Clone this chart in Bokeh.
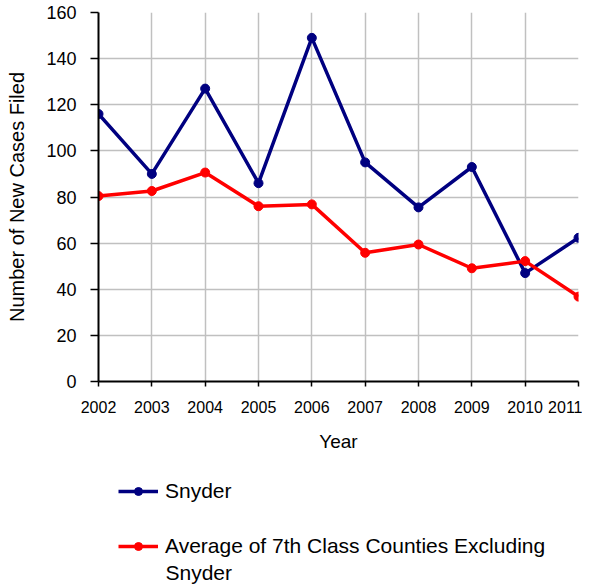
from bokeh.plotting import figure
from bokeh.models import Range1d, FixedTicker, Legend, LegendItem, Label
from bokeh.layouts import column
from bokeh.embed import file_html
from bokeh.resources import INLINE

years = [2002, 2003, 2004, 2005, 2006, 2007, 2008, 2009, 2010, 2011]
snyder = [116, 90, 127, 86, 149, 95, 75.5, 93, 47, 62.3]
average = [80.4, 82.6, 90.6, 76, 76.8, 55.8, 59.4, 49.1, 52.2, 36.8]
y_ticks = [0, 20, 40, 60, 80, 100, 120, 140, 160]
series_names = ["Snyder", "Average of 7th Class Counties Excluding", "Snyder"]

FONT = "Liberation Sans"
NAVY = "#000080"
RED = "#FF0000"
LW = 3.5
MS = 9

p = figure(width=582, height=460, output_backend="svg", toolbar_location=None,
           x_range=Range1d(2002, 2011), y_range=Range1d(0, 160),
           min_border_left=98, min_border_right=4, min_border_top=12, min_border_bottom=79)
p.outline_line_color = None

for ax in (p.xaxis[0], p.yaxis[0]):
    ax.axis_line_color = "black"
    ax.axis_line_width = 2
    ax.major_tick_line_color = "black"
    ax.major_tick_line_width = 1.5
    ax.minor_tick_line_color = None
    ax.major_tick_in = 0
    ax.major_label_text_font = FONT
    ax.major_label_text_color = "black"
    ax.axis_label_text_font = FONT
    ax.axis_label_text_font_style = "normal"
    ax.axis_label_text_color = "black"
    ax.axis_label_text_font_size = "19px"

p.xaxis.ticker = FixedTicker(ticks=years)
p.xaxis.major_tick_out = 5
p.xaxis.major_label_standoff = 14
p.xaxis.major_label_text_font_size = "16px"
p.xaxis.axis_label = "Year"
p.xaxis.axis_label_standoff = 15

p.yaxis.ticker = FixedTicker(ticks=y_ticks)
p.yaxis.major_tick_out = 8
p.yaxis.major_label_standoff = 14
p.yaxis.major_label_text_font_size = "18px"
p.yaxis.axis_label = "Number of New Cases Filed"
p.yaxis.axis_label_text_font_size = "20px"
p.yaxis.axis_label_standoff = 15

p.xgrid.ticker = FixedTicker(ticks=years)
p.ygrid.ticker = FixedTicker(ticks=y_ticks)
for g in (p.xgrid[0], p.ygrid[0]):
    g.grid_line_color = "#C0C0C0"
    g.grid_line_width = 1.5

p.line(years, snyder, line_color=NAVY, line_width=LW)
p.scatter(years, snyder, size=MS, fill_color=NAVY, line_color=NAVY)
p.line(years, average, line_color=RED, line_width=LW)
p.scatter(years, average, size=MS, fill_color=RED, line_color=RED)

# legend panel (its glyph renderers lie outside its ranges, so only the legend shows them)
q = figure(width=582, height=124, output_backend="svg", toolbar_location=None,
           x_range=Range1d(0, 1), y_range=Range1d(0, 1),
           min_border=0, x_axis_type=None, y_axis_type=None)
q.outline_line_color = None
q.grid.visible = False
ql1 = q.line(years, snyder, line_color=NAVY, line_width=LW)
qs1 = q.scatter(years, snyder, size=MS, fill_color=NAVY, line_color=NAVY)
ql2 = q.line(years, average, line_color=RED, line_width=LW)
qs2 = q.scatter(years, average, size=MS, fill_color=RED, line_color=RED)

legend = Legend(items=[LegendItem(label=series_names[0], renderers=[ql1, qs1]),
                       LegendItem(label=series_names[1], renderers=[ql2, qs2])],
                location=(20, 26), orientation="vertical",
                glyph_width=40, glyph_height=20, label_height=20,
                label_standoff=7, spacing=31, padding=0, margin=0,
                border_line_color=None, background_fill_alpha=0,
                label_text_font=FONT, label_text_font_size="21px",
                label_text_color="black")
q.add_layout(legend, "center")
q.add_layout(Label(x=67, y=12, x_units="screen", y_units="screen",
                   text=series_names[2], text_font=FONT, text_font_size="21px",
                   text_align="left", text_baseline="middle", text_color="black"))

layout = column(p, q, spacing=0)
open("out.html", "w").write(file_html(layout, INLINE))
